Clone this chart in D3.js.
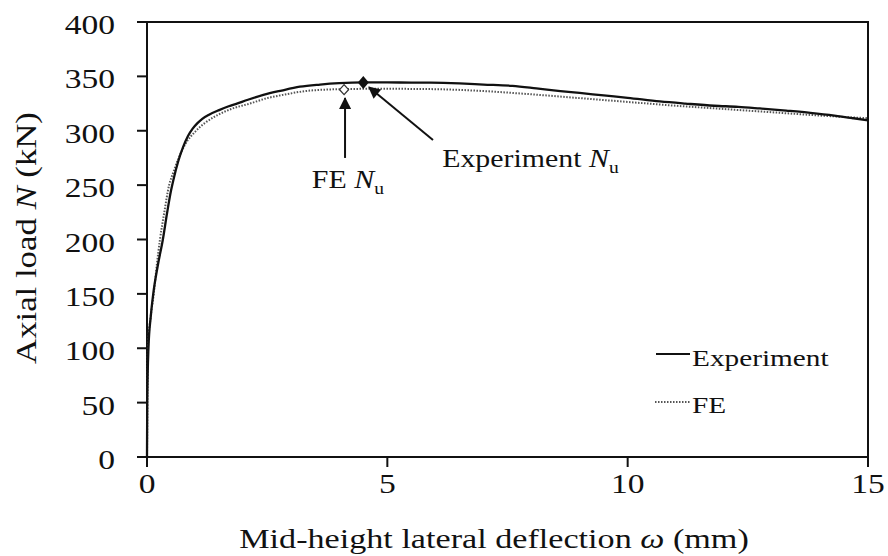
<!DOCTYPE html>
<html>
<head>
<meta charset="utf-8">
<script src="https://cdn.jsdelivr.net/npm/d3@7"></script>
<style>
  html, body { margin: 0; padding: 0; background: #fff; }
  svg { display: block; }
  text { font-family: "Liberation Serif", "Times New Roman", serif; fill: #111; }
</style>
</head>
<body>
<svg id="chart" width="888" height="556"></svg>
<script>
// ---------- DATA ----------
const xTicks = [0, 5, 10, 15];
const yTicks = [0, 50, 100, 150, 200, 250, 300, 350, 400];

// Experiment curve: [deflection (mm), axial load (kN)]
const experimentX = [0, 0.005, 0.03, 0.08, 0.13, 0.22, 0.33, 0.42, 0.5, 0.55, 0.65, 0.75, 0.85, 0.95, 1.05, 1.15, 1.3, 1.5, 1.7, 1.87, 2.1, 2.42, 2.8, 3.18, 3.6, 4.0, 4.5, 5.0, 5.5, 5.9, 6.5, 7.0, 7.6, 8.1, 8.6, 9.0, 9.5, 10, 10.67, 11.2, 11.8, 12.3, 12.75, 13.3, 13.8, 14.3, 14.7, 15];
const experimentN = [0, 50, 100, 130, 150, 175, 200, 225, 245, 255, 272, 285, 295, 302, 307, 311, 315, 319, 322.5, 325, 328.5, 333, 337, 340.5, 342.5, 343.8, 344.5, 344.4, 344.3, 344.2, 343.5, 342.5, 341.3, 339, 336.5, 334.8, 332.5, 330.3, 327, 325, 323, 322, 320.5, 318.5, 316.5, 314, 311.5, 309.5];

// FE curve
const feX = [0, 0.005, 0.01, 0.02, 0.08, 0.14, 0.2, 0.27, 0.36, 0.46, 0.55, 0.65, 0.8, 1.0, 1.2, 1.41, 1.75, 2.14, 2.5, 2.83, 3.3, 3.7, 4.1, 4.8, 5.9, 7, 8, 9, 10, 11, 12, 13, 14, 15];
const feN = [0, 30, 60, 100, 130, 150, 175, 200, 225, 250, 262, 274, 288, 299, 307, 313, 320, 325, 330, 333, 336.5, 337.8, 338.3, 338.6, 338.3, 336.5, 333.5, 330, 326.5, 323, 320, 317, 314, 311.5];

// Peak points (N_u)
const peakExperiment = [4.5, 344.4];
const peakFE = [4.1, 337.8];

// Annotation arrows [x, N] from -> to
const arrowFE = [[4.12, 275], [4.12, 330]];
const arrowExp = [[5.95, 291.5], [4.62, 340]];
// Annotation label anchors [x, N]
const labelFE = [3.43, 247.4];
const labelExp = [6.14, 266.7];

// ---------- LAYOUT ----------
const svg = d3.select("#chart");
const SX = 1.22; // horizontal glyph stretch of the reference
const x = d3.scaleLinear().domain([0, 15]).range([147, 868]);
const y = d3.scaleLinear().domain([0, 400]).range([457, 22]);

function stretchedText(g, px, py, str, size, anchor, rotate) {
  const t = g.append("g")
    .attr("transform", `translate(${px},${py})` + (rotate ? ` rotate(${rotate})` : "") + ` scale(${SX},1)`)
    .append("text")
    .attr("x", 0).attr("y", 0)
    .attr("font-size", size)
    .attr("text-anchor", anchor || "start");
  return t;
}

// Axes box
const frame = svg.append("g");
frame.append("rect")
  .attr("x", x(0)).attr("y", y(400))
  .attr("width", x(15) - x(0)).attr("height", y(0) - y(400))
  .attr("fill", "none").attr("stroke", "#111").attr("stroke-width", 2);

// Y ticks & labels
const yAxisG = svg.append("g");
yTicks.forEach(v => {
  yAxisG.append("line")
    .attr("x1", x(0) - 10).attr("x2", x(0))
    .attr("y1", y(v)).attr("y2", y(v))
    .attr("stroke", "#111").attr("stroke-width", 2);
  stretchedText(yAxisG, 115, y(v) + 12, String(v), 27.5, "end").text(v);
});

// X ticks & labels
const xAxisG = svg.append("g");
xTicks.forEach(v => {
  xAxisG.append("line")
    .attr("x1", x(v)).attr("x2", x(v))
    .attr("y1", y(0)).attr("y2", y(0) + 10)
    .attr("stroke", "#111").attr("stroke-width", 2);
  stretchedText(xAxisG, x(v), 493, String(v), 27.5, "middle").text(v);
});

// Axis titles
const xt = stretchedText(svg, 494, 548, "", 28, "middle");
xt.append("tspan").text("Mid-height lateral deflection ");
xt.append("tspan").attr("font-style", "italic").text("ω");
xt.append("tspan").text(" (mm)");

const yt = stretchedText(svg, 36, 238, "", 28.5, "middle", -90);
yt.append("tspan").text("Axial load ");
yt.append("tspan").attr("font-style", "italic").text("N");
yt.append("tspan").text(" (kN)");

// Curves
const line = d3.line().x(d => x(d[0])).y(d => y(d[1])).curve(d3.curveMonotoneX);
const feData = feX.map((v, i) => [v, feN[i]]);
const expData = experimentX.map((v, i) => [v, experimentN[i]]);

svg.append("path").datum(feData)
  .attr("d", line).attr("fill", "none")
  .attr("stroke", "#555").attr("stroke-width", 2)
  .attr("stroke-dasharray", "1.5 1.5");

svg.append("path").datum(expData)
  .attr("d", line).attr("fill", "none")
  .attr("stroke", "#111").attr("stroke-width", 2.3);

// Peak markers
function diamond(cx, cy, hw, hh) {
  return `M${cx},${cy - hh}L${cx + hw},${cy}L${cx},${cy + hh}L${cx - hw},${cy}Z`;
}
svg.append("path")
  .attr("d", diamond(x(peakFE[0]), y(peakFE[1]), 4.5, 5))
  .attr("fill", "#fff").attr("stroke", "#333").attr("stroke-width", 1.3);
svg.append("path")
  .attr("d", diamond(x(peakExperiment[0]), y(peakExperiment[1]), 5.5, 6.5))
  .attr("fill", "#111");

// Arrows
const defs = svg.append("defs");
defs.append("marker")
  .attr("id", "ah").attr("viewBox", "0 0 10 10")
  .attr("refX", 9).attr("refY", 5)
  .attr("markerWidth", 8).attr("markerHeight", 6)
  .attr("markerUnits", "strokeWidth")
  .attr("orient", "auto")
  .append("path").attr("d", "M0,0L10,5L0,10Z").attr("fill", "#111");

[arrowFE, arrowExp].forEach(a => {
  svg.append("line")
    .attr("x1", x(a[0][0])).attr("y1", y(a[0][1]))
    .attr("x2", x(a[1][0])).attr("y2", y(a[1][1]))
    .attr("stroke", "#111").attr("stroke-width", 2)
    .attr("marker-end", "url(#ah)");
});

// Annotation labels
const lf = stretchedText(svg, x(labelFE[0]), y(labelFE[1]), "", 24.5, "start");
lf.append("tspan").text("FE ");
lf.append("tspan").attr("font-style", "italic").text("N");
lf.append("tspan").attr("font-size", 16).attr("dy", 6).text("u");

const le = stretchedText(svg, x(labelExp[0]), y(labelExp[1]), "", 24.5, "start");
le.append("tspan").text("Experiment ");
le.append("tspan").attr("font-style", "italic").text("N");
le.append("tspan").attr("font-size", 16).attr("dy", 6).text("u");

// Legend
const legend = svg.append("g");
legend.append("line").attr("x1", 656).attr("x2", 690).attr("y1", 354).attr("y2", 354)
  .attr("stroke", "#111").attr("stroke-width", 2);
stretchedText(legend, 692, 366, "", 24, "start").text("Experiment");
legend.append("line").attr("x1", 655).attr("x2", 690).attr("y1", 402).attr("y2", 402)
  .attr("stroke", "#555").attr("stroke-width", 2).attr("stroke-dasharray", "1.5 1.5");
stretchedText(legend, 692, 413, "", 24, "start").text("FE");
</script>
</body>
</html>
